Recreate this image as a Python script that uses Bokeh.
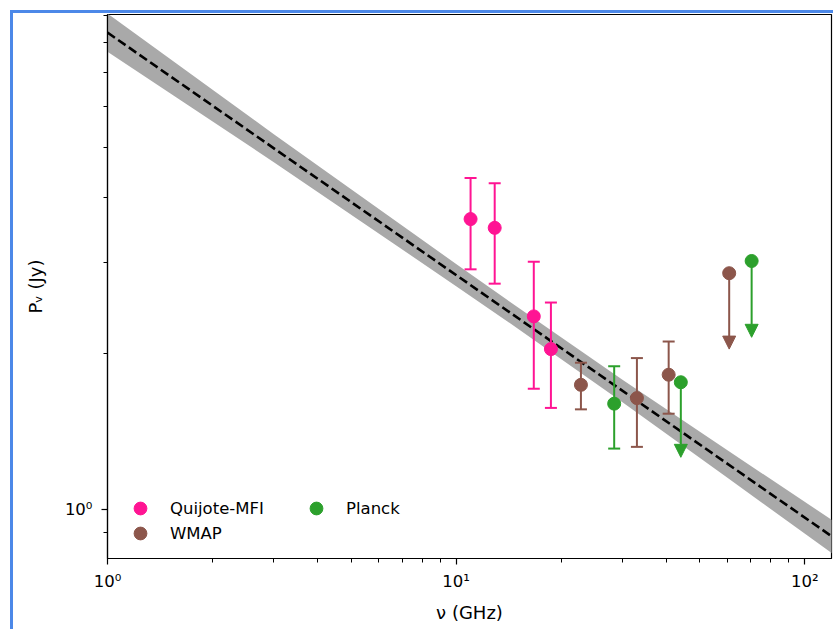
import math
from bokeh.plotting import figure
from bokeh.models import (FixedTicker, CustomJSTickFormatter, Range1d, ColumnDataSource,
                          Arrow, NormalHead, Legend, LegendItem)
from bokeh.embed import file_html
from bokeh.resources import INLINE

# ---- data ----
fit_nu = [1.0, 119.0]
fit_flux = [8.35, 0.888]

band_nu = [1, 3, 10, 14, 30, 60, 120]
band_hi = [9.09, 5.31, 2.98, 2.54, 1.78, 1.30, 0.952]
band_lo = [7.67, 4.69, 2.70, 2.31, 1.61, 1.15, 0.821]

quijote_nu = [11.0, 12.9, 16.7, 18.7]
quijote_flux = [3.64, 3.50, 2.36, 2.04]
quijote_err = [0.73, 0.77, 0.65, 0.47]

wmap_nu = [22.8, 33.0, 40.7]
wmap_flux = [1.74, 1.64, 1.82]
wmap_err = [0.18, 0.32, 0.29]
wmap_ul_nu = [60.7]
wmap_ul_flux = [2.86]
wmap_ul_tip = [2.04]

planck_nu = [28.4]
planck_flux = [1.60]
planck_err = [0.29]
planck_ul_nu = [44.1, 70.4]
planck_ul_flux = [1.76, 3.02]
planck_ul_tip = [1.26, 2.15]

x_ticks = [1, 10, 100]
x_tick_labels = ["10⁰", "10¹", "10²"]
x_minor = [2, 3, 4, 5, 6, 7, 8, 9, 20, 30, 40, 50, 60, 70, 80, 90]
y_ticks = [1]
y_tick_labels = ["10⁰"]
y_minor = [0.9, 2, 3, 4, 5, 6, 7, 8, 9]

PINK = "#ff1493"
BROWN = "#8c564b"
GREEN = "#2ca02c"
BLUE = "#4c88e8"
FONT = "DejaVu Sans"

p = figure(width=823, height=619, x_axis_type="log", y_axis_type="log",
           x_range=Range1d(1.0, 119.3), y_range=Range1d(0.803, 9.05),
           output_backend="svg", toolbar_location=None,
           min_border_left=94, min_border_right=5, min_border_top=1, min_border_bottom=74)
p.styles = {"border-top": f"3px solid {BLUE}", "border-left": f"3px solid {BLUE}",
            "margin-left": "10px", "margin-top": "10px"}

p.xgrid.visible = False
p.ygrid.visible = False
p.outline_line_color = "black"
p.outline_line_width = 1.2
p.background_fill_color = "white"
p.border_fill_color = "white"

# band and fit line
p.varea(x=band_nu, y1=band_lo, y2=band_hi, fill_color="#a9a9a9", fill_alpha=1.0)
p.line(fit_nu, fit_flux, line_color="black", line_width=2.6, line_dash="9 4")


def errorbars(nu, flux, err, color):
    lo = [f - e for f, e in zip(flux, err)]
    hi = [f + e for f, e in zip(flux, err)]
    src = ColumnDataSource(dict(x=nu, y=flux, lo=lo, hi=hi))
    p.segment(x0="x", y0="lo", x1="x", y1="hi", source=src, line_color=color, line_width=2)
    p.scatter(x="x", y="lo", source=src, marker="dash", size=12, line_color=color, line_width=2)
    p.scatter(x="x", y="hi", source=src, marker="dash", size=12, line_color=color, line_width=2)
    return p.scatter(x="x", y="y", source=src, marker="circle", size=13,
                     fill_color=color, line_color=color)


def upper_limits(nu, flux, tip, color):
    src = ColumnDataSource(dict(x=nu, y=flux, tip=tip))
    p.add_layout(Arrow(end=NormalHead(size=13, fill_color=color, line_color=color, line_width=1),
                       x_start="x", y_start="y", x_end="x", y_end="tip", source=src,
                       line_color=color, line_width=2))
    p.scatter(x="x", y="y", source=src, marker="circle", size=13,
              fill_color=color, line_color=color)


r_q = errorbars(quijote_nu, quijote_flux, quijote_err, PINK)
r_w = errorbars(wmap_nu, wmap_flux, wmap_err, BROWN)
r_p = errorbars(planck_nu, planck_flux, planck_err, GREEN)
upper_limits(wmap_ul_nu, wmap_ul_flux, wmap_ul_tip, BROWN)
upper_limits(planck_ul_nu, planck_ul_flux, planck_ul_tip, GREEN)

# axes
fmt_code = "const i = tvals.indexOf(tick); return i >= 0 ? tlabels[i] : '';"
p.xaxis.ticker = FixedTicker(ticks=x_ticks, minor_ticks=x_minor)
p.xaxis.formatter = CustomJSTickFormatter(args=dict(tvals=x_ticks, tlabels=x_tick_labels), code=fmt_code)
p.yaxis.ticker = FixedTicker(ticks=y_ticks, minor_ticks=y_minor)
p.yaxis.formatter = CustomJSTickFormatter(args=dict(tvals=y_ticks, tlabels=y_tick_labels), code=fmt_code)

p.xaxis.axis_label = "ν (GHz)"
p.yaxis.axis_label = "Pᵥ (Jy)"
for ax in (p.xaxis[0], p.yaxis[0]):
    ax.axis_line_color = "black"
    ax.axis_line_width = 1.2
    ax.major_tick_line_color = "black"
    ax.minor_tick_line_color = "black"
    ax.major_tick_line_width = 1.2
    ax.minor_tick_line_width = 1
    ax.major_tick_out = 6
    ax.major_tick_in = 0
    ax.minor_tick_out = 4
    ax.minor_tick_in = 0
    ax.major_label_text_font = FONT
    ax.major_label_text_font_size = "16.5px"
    ax.major_label_text_color = "black"
    ax.axis_label_text_font = FONT
    ax.axis_label_text_font_size = "18px"
    ax.axis_label_text_font_style = "normal"
    ax.axis_label_text_color = "black"
p.xaxis.major_label_standoff = 7
p.xaxis.axis_label_standoff = 8
p.yaxis.major_label_standoff = 9
p.yaxis.axis_label_standoff = 16


def legend_box(label, renderer, loc):
    lg = Legend(items=[LegendItem(label=label, renderers=[renderer])],
                location=loc, glyph_width=32, glyph_height=32, spacing=0,
                label_standoff=14, padding=0, margin=0,
                label_text_font=FONT, label_text_font_size="16.5px", label_text_color="black",
                border_line_alpha=0, background_fill_alpha=0)
    p.add_layout(lg)


legend_box("Quijote-MFI", r_q, (17, 34))
legend_box("WMAP", r_w, (17, 9))
legend_box("Planck", r_p, (193, 34))

open("out.html", "w").write(file_html(p, INLINE))
